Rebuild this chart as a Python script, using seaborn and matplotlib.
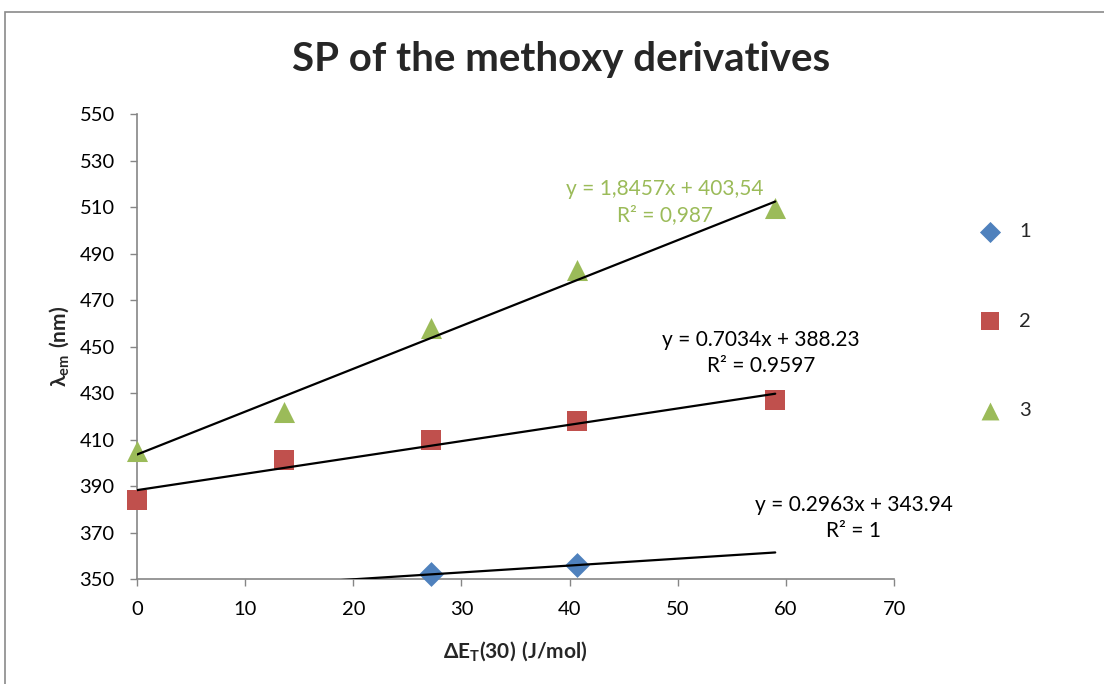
import numpy as np
import pandas as pd
import matplotlib
matplotlib.use("Agg")
import matplotlib.pyplot as plt
import seaborn as sns

# data
x_s1 = [27.2, 40.7]
y_s1 = [352.0, 356.0]
x_s2 = [0.0, 13.6, 27.2, 40.7, 59.0]
y_s2 = [384.0, 401.0, 410.0, 418.0, 427.0]
x_s3 = [0.0, 13.6, 27.2, 40.7, 59.0]
y_s3 = [405.0, 422.0, 458.0, 483.0, 509.5]
series_names = ["1", "2", "3"]

# trendline coefficients as printed on the chart
slopes = [0.2963, 0.7034, 1.8457]
intercepts = [343.94, 388.23, 403.54]
eq_labels = ["y = 0.2963x + 343.94\nR² = 1",
             "y = 0.7034x + 388.23\nR² = 0.9597",
             "y = 1,8457x + 403,54\nR² = 0,987"]

colors = {"1": "#4F81BD", "2": "#C0504D", "3": "#9BBB59"}
markers = {"1": "D", "2": "s", "3": "^"}

df = pd.DataFrame({
    "x": x_s1 + x_s2 + x_s3,
    "y": y_s1 + y_s2 + y_s3,
    "series": ["1"] * len(x_s1) + ["2"] * len(x_s2) + ["3"] * len(x_s3),
})

sns.set_style("white")
plt.rcParams["font.family"] = ["Lato", "DejaVu Sans"]
plt.rcParams["mathtext.fontset"] = "custom"
plt.rcParams["mathtext.rm"] = "Lato"
plt.rcParams["mathtext.bf"] = "Lato:bold"
plt.rcParams["mathtext.fallback"] = "stixsans"

W, H = 1104, 684
fig = plt.figure(figsize=(W / 100, H / 100), dpi=100)
ax = fig.add_axes([0.124, 0.1535, 0.686, 0.6795])

# chart frame
fig.patches.append(plt.Rectangle((0.0045, -0.1), 1.2, 0.1 + 0.9825,
                                 transform=fig.transFigure, fill=False,
                                 edgecolor="#8a8a8a", linewidth=1.2))

sizes = {"1": 160, "2": 215, "3": 230}
for name in series_names:
    sub = df[df["series"] == name]
    sns.scatterplot(data=sub, x="x", y="y", color=colors[name],
                    marker=markers[name], s=sizes[name], linewidth=0,
                    label=name, ax=ax, zorder=3, clip_on=False)

# trendlines
x_fit = np.array([0.0, max(df["x"])])
for m, b in zip(slopes, intercepts):
    sns.lineplot(x=x_fit, y=m * x_fit + b, color="black", linewidth=1.6,
                 ax=ax, zorder=4, legend=False)

# equation labels (positions in figure pixels)
eq_pos = [(854, 518), (761, 353), (665, 202)]
eq_colors = ["black", "black", "#9BBB59"]
for lab, (px, py), c in zip(eq_labels, eq_pos, eq_colors):
    fig.text(px / W, 1 - py / H, lab, ha="center", va="center",
             fontsize=15, color=c, linespacing=1.4)

ax.set_xlim(0, 70)
ax.set_ylim(350, 550)
ax.set_xticks(range(0, 71, 10))
ax.set_yticks(range(350, 551, 20))
ax.tick_params(axis="both", labelsize=14.5, colors="#868686",
               labelcolor="black", length=5, width=1, direction="out",
               left=True, bottom=True)
ax.tick_params(axis="x", pad=11)
ax.tick_params(axis="y", pad=11)
for side in ["top", "right"]:
    ax.spines[side].set_visible(False)
for side in ["left", "bottom"]:
    ax.spines[side].set_color("#868686")
    ax.spines[side].set_linewidth(1.2)

fig.text(561 / W, 1 - 60 / H, "SP of the methoxy derivatives", fontsize=29,
         fontweight="bold", ha="center", va="center")
ax.set_xlabel(r"$\mathbf{\Delta E_T(30)\ (J/mol)}$", fontsize=15)
ax.set_ylabel(r"$\mathbf{\lambda_{em}\ (nm)}$", fontsize=15)
ax.xaxis.set_label_coords(0.5, -0.129)
ax.yaxis.set_label_coords(-0.087, 0.5)

leg = ax.legend(loc="upper left", bbox_to_anchor=(0.8714, 0.7005),
                bbox_transform=fig.transFigure, frameon=False,
                fontsize=14.5, labelspacing=3.6, handlelength=1.0,
                handletextpad=0.95, markerscale=0.85)

fig.savefig("out.png", dpi=100)
